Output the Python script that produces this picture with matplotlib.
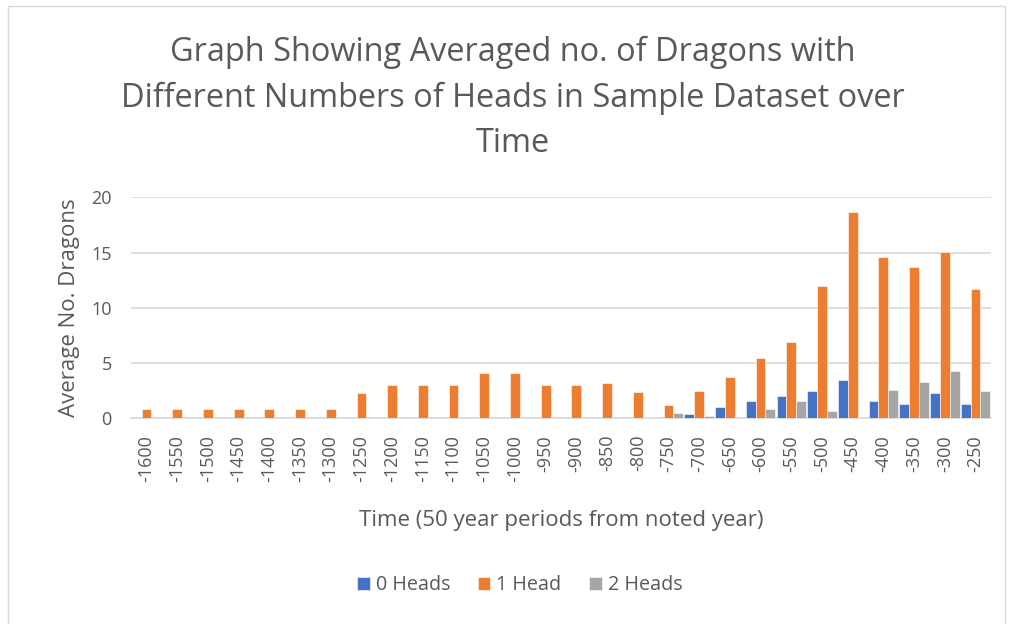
import numpy as np
import matplotlib
matplotlib.use("Agg")
import matplotlib.pyplot as plt
from matplotlib.patches import Rectangle

plt.rcParams['font.family'] = ['Open Sans', 'DejaVu Sans']

# --data--
years = [-1600, -1550, -1500, -1450, -1400, -1350, -1300, -1250, -1200, -1150,
         -1100, -1050, -1000, -950, -900, -850, -800, -750, -700, -650,
         -600, -550, -500, -450, -400, -350, -300, -250]
heads0 = [0, 0, 0, 0, 0, 0, 0, 0, 0, 0,
          0, 0, 0, 0, 0, 0, 0, 0, 0.42, 1.0,
          1.54, 2.05, 2.5, 3.5, 1.6, 1.27, 2.29, 1.29]
heads1 = [0.85, 0.85, 0.85, 0.85, 0.85, 0.85, 0.85, 2.3, 3.0, 3.0,
          3.0, 4.07, 4.07, 3.0, 3.05, 3.15, 2.35, 1.2, 2.44, 3.77,
          5.49, 6.94, 11.97, 18.67, 14.57, 13.7, 15.1, 11.7]
heads2 = [0, 0, 0, 0, 0, 0, 0, 0, 0, 0,
          0, 0, 0, 0, 0, 0, 0.15, 0.48, 0.18, 0,
          0.81, 1.54, 0.66, 0.15, 2.53, 3.26, 4.25, 2.44]
series = ["0 Heads", "1 Head", "2 Heads"]
colors = ["#4472c4", "#ed7d31", "#a5a5a5"]

grey_txt = "#595959"

fig = plt.figure(figsize=(10.09, 6.24), dpi=100)
ax = fig.add_axes([0.13, 0.3297, 0.852, 0.3538])

x = np.arange(len(years))
w = 0.32
for i, (vals, lab, col) in enumerate(zip([heads0, heads1, heads2], series, colors)):
    ax.bar(x + (i - 1) * w, vals, w, color=col, label=lab,
           edgecolor="white", linewidth=0.4, zorder=3)

ax.set_xlim(-0.5, len(years) - 0.5)
ax.set_ylim(0, 20)
ax.set_yticks([0, 5, 10, 15, 20])
ax.grid(axis="y", color="#d9d9d9", linewidth=1.2, zorder=0)
ax.set_axisbelow(True)
for s in ["top", "right", "left"]:
    ax.spines[s].set_visible(False)
ax.spines["bottom"].set_color("#d9d9d9")
ax.spines["bottom"].set_linewidth(1.2)
ax.set_xticks(x)
ax.set_xticklabels([str(y) for y in years], rotation=90)
ax.tick_params(axis="both", length=0, labelsize=13, colors=grey_txt)
ax.tick_params(axis="x", pad=12)
ax.tick_params(axis="y", pad=14)

ax.set_xlabel("Time (50 year periods from noted year)", fontsize=16,
              color=grey_txt, labelpad=20)
ax.set_ylabel("Average No. Dragons", fontsize=16, color=grey_txt, labelpad=8)

fig.text(0.508, 0.843,
         "Graph Showing Averaged no. of Dragons with\n"
         "Different Numbers of Heads in Sample Dataset over\nTime",
         ha="center", va="center", fontsize=23.4, color=grey_txt,
         linespacing=1.48)

fig.legend(loc="center", bbox_to_anchor=(0.515, 0.062), ncol=3, frameon=False,
           fontsize=14.2, labelcolor=grey_txt, handlelength=0.65,
           handleheight=0.65, handletextpad=0.3, columnspacing=1.4)

# light chart border
fig.patches.append(Rectangle((0.008, -0.01), 0.988, 1.0, transform=fig.transFigure,
                             fill=False, edgecolor="#d9d9d9", linewidth=1))

fig.savefig("out.png", dpi=100)
